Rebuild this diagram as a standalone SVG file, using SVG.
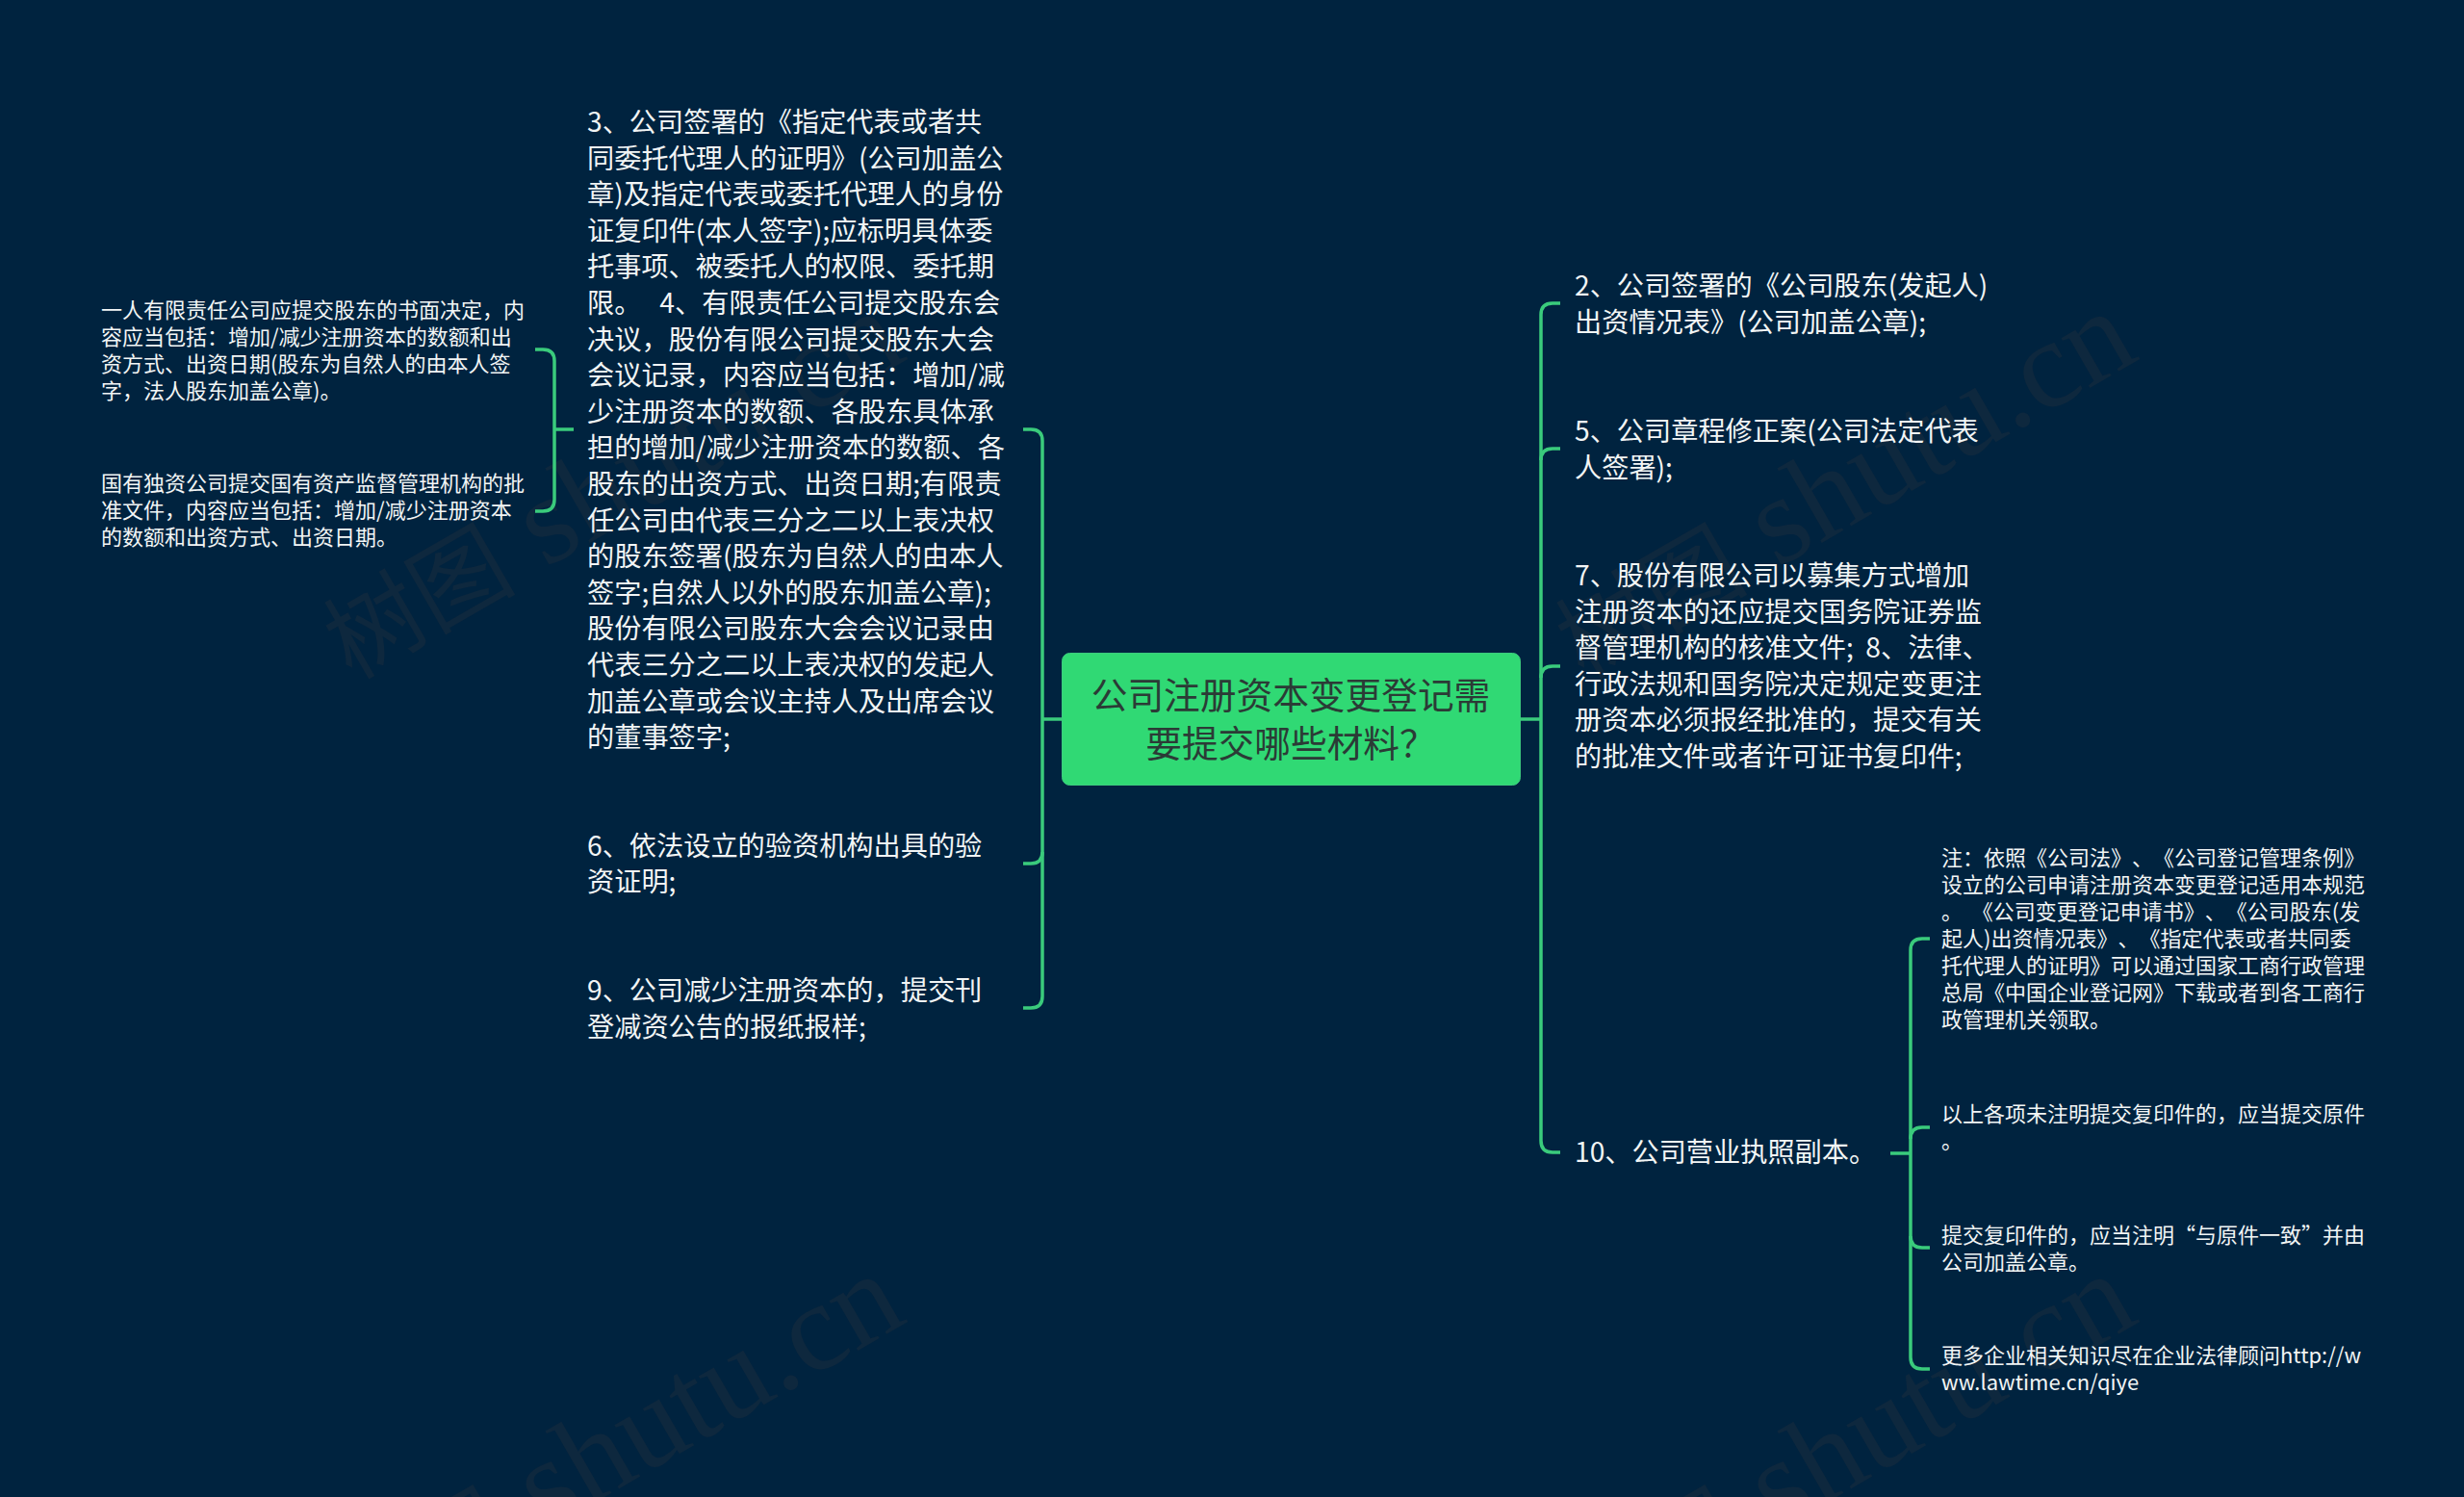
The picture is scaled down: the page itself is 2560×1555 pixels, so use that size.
<svg xmlns="http://www.w3.org/2000/svg" width="2560" height="1555" viewBox="0 0 2560 1555">
<style>
text{font-family:"Noto Sans CJK SC","Noto Sans",sans-serif;white-space:pre;text-spacing-trim:space-all}
.wm{font-family:"Liberation Serif",serif;font-size:130px;fill:#0e283e;text-anchor:end}
.wm tspan{font-family:"Noto Sans CJK SC",sans-serif;font-size:100px}
.m{font-size:28.2px;fill:#f2f5f5}
.s{font-size:22px;fill:#f2f5f5}
.c{font-size:37.7px;fill:#2b3b36;text-anchor:middle}
#connectors path{fill:none;stroke:#3acb7c;stroke-width:3.5}
</style>
<rect width="2560" height="1555" fill="#00233f"/>
<g id="watermarks">
<text class="wm" transform="translate(945 372) rotate(-30)"><tspan>树图</tspan> shutu.cn</text>
<text class="wm" transform="translate(2225 372) rotate(-30)"><tspan>树图</tspan> shutu.cn</text>
<text class="wm" transform="translate(945 1372) rotate(-30)"><tspan>树图</tspan> shutu.cn</text>
<text class="wm" transform="translate(2225 1372) rotate(-30)"><tspan>树图</tspan> shutu.cn</text>
</g>
<g id="connectors">
<path d="M1103 747H1083"/>
<path d="M1063 446H1071Q1083 446 1083 458V1035Q1083 1047 1071 1047H1063"/>
<path d="M1083 885Q1083 897 1071 897H1063"/>
<path d="M596 446H576"/>
<path d="M556 363H564Q576 363 576 375V519Q576 531 564 531H556"/>
<path d="M1580 747H1601"/>
<path d="M1621 315H1613Q1601 315 1601 327V1185Q1601 1197 1613 1197H1621"/>
<path d="M1601 478Q1601 466 1613 466H1621"/>
<path d="M1601 704Q1601 692 1613 692H1621"/>
<path d="M1964 1198H1985"/>
<path d="M2005 975H1997Q1985 975 1985 987V1410Q1985 1422 1997 1422H2005"/>
<path d="M1985 1183Q1985 1171 1997 1171H2005"/>
<path d="M1985 1284Q1985 1296 1997 1296H2005"/>
</g>
<g id="root">
<rect x="1103.5" y="678.5" width="476" height="137" rx="8" fill="#30d974" stroke="#3ccb7e" stroke-width="1"/>
<text class="c" x="1341" y="736">公司注册资本变更登记需</text>
<text class="c" x="1341" y="786">要提交哪些材料？</text>
</g>
<g id="n3">
<text class="m" x="610" y="137">3、公司签署的《指定代表或者共</text>
<text class="m" x="610" y="174.6">同委托代理人的证明》(公司加盖公</text>
<text class="m" x="610" y="212.2">章)及指定代表或委托代理人的身份</text>
<text class="m" x="610" y="249.8">证复印件(本人签字);应标明具体委</text>
<text class="m" x="610" y="287.4">托事项、被委托人的权限、委托期</text>
<text class="m" x="610" y="325">限。   4、有限责任公司提交股东会</text>
<text class="m" x="610" y="362.6">决议，股份有限公司提交股东大会</text>
<text class="m" x="610" y="400.2">会议记录，内容应当包括：增加/减</text>
<text class="m" x="610" y="437.8">少注册资本的数额、各股东具体承</text>
<text class="m" x="610" y="475.4">担的增加/减少注册资本的数额、各</text>
<text class="m" x="610" y="513">股东的出资方式、出资日期;有限责</text>
<text class="m" x="610" y="550.6">任公司由代表三分之二以上表决权</text>
<text class="m" x="610" y="588.2">的股东签署(股东为自然人的由本人</text>
<text class="m" x="610" y="625.8">签字;自然人以外的股东加盖公章);</text>
<text class="m" x="610" y="663.4">股份有限公司股东大会会议记录由</text>
<text class="m" x="610" y="701">代表三分之二以上表决权的发起人</text>
<text class="m" x="610" y="738.6">加盖公章或会议主持人及出席会议</text>
<text class="m" x="610" y="776.2">的董事签字;</text>
</g>
<g id="n6">
<text class="m" x="610" y="888.5">6、依法设立的验资机构出具的验</text>
<text class="m" x="610" y="926">资证明;</text>
</g>
<g id="n9">
<text class="m" x="610" y="1039">9、公司减少注册资本的，提交刊</text>
<text class="m" x="610" y="1076.6">登减资公告的报纸报样;</text>
</g>
<g id="a1">
<text class="s" x="105" y="329.5">一人有限责任公司应提交股东的书面决定，内</text>
<text class="s" x="105" y="357.5">容应当包括：增加/减少注册资本的数额和出</text>
<text class="s" x="105" y="385.5">资方式、出资日期(股东为自然人的由本人签</text>
<text class="s" x="105" y="413.5">字，法人股东加盖公章)。</text>
</g>
<g id="a2">
<text class="s" x="105" y="510">国有独资公司提交国有资产监督管理机构的批</text>
<text class="s" x="105" y="538">准文件，内容应当包括：增加/减少注册资本</text>
<text class="s" x="105" y="566">的数额和出资方式、出资日期。</text>
</g>
<g id="n2">
<text class="m" x="1636" y="307">2、公司签署的《公司股东(发起人)</text>
<text class="m" x="1636" y="344.6">出资情况表》(公司加盖公章);</text>
</g>
<g id="n5">
<text class="m" x="1636" y="458">5、公司章程修正案(公司法定代表</text>
<text class="m" x="1636" y="495.6">人签署);</text>
</g>
<g id="n7">
<text class="m" x="1636" y="608">7、股份有限公司以募集方式增加</text>
<text class="m" x="1636" y="645.6">注册资本的还应提交国务院证券监</text>
<text class="m" x="1636" y="683.2">督管理机构的核准文件;  8、法律、</text>
<text class="m" x="1636" y="720.8">行政法规和国务院决定规定变更注</text>
<text class="m" x="1636" y="758.4">册资本必须报经批准的，提交有关</text>
<text class="m" x="1636" y="796">的批准文件或者许可证书复印件;</text>
</g>
<g id="n10">
<text class="m" x="1636" y="1207">10、公司营业执照副本。</text>
</g>
<g id="b1">
<text class="s" x="2017" y="898.5">注：依照《公司法》、《公司登记管理条例》</text>
<text class="s" x="2017" y="926.5">设立的公司申请注册资本变更登记适用本规范</text>
<text class="s" x="2017" y="954.5">。  《公司变更登记申请书》、《公司股东(发</text>
<text class="s" x="2017" y="982.5">起人)出资情况表》、《指定代表或者共同委</text>
<text class="s" x="2017" y="1010.5">托代理人的证明》可以通过国家工商行政管理</text>
<text class="s" x="2017" y="1038.5">总局《中国企业登记网》下载或者到各工商行</text>
<text class="s" x="2017" y="1066.5">政管理机关领取。</text>
</g>
<g id="b2">
<text class="s" x="2017" y="1164.5">以上各项未注明提交复印件的，应当提交原件</text>
<text class="s" x="2017" y="1192.5">。</text>
</g>
<g id="b3">
<text class="s" x="2017" y="1290.5">提交复印件的，应当注明“与原件一致”并由</text>
<text class="s" x="2017" y="1318.5">公司加盖公章。</text>
</g>
<g id="b4">
<text class="s" x="2017" y="1415.5">更多企业相关知识尽在企业法律顾问http://w</text>
<text class="s" x="2017" y="1443.5">ww.lawtime.cn/qiye</text>
</g>
</svg>
